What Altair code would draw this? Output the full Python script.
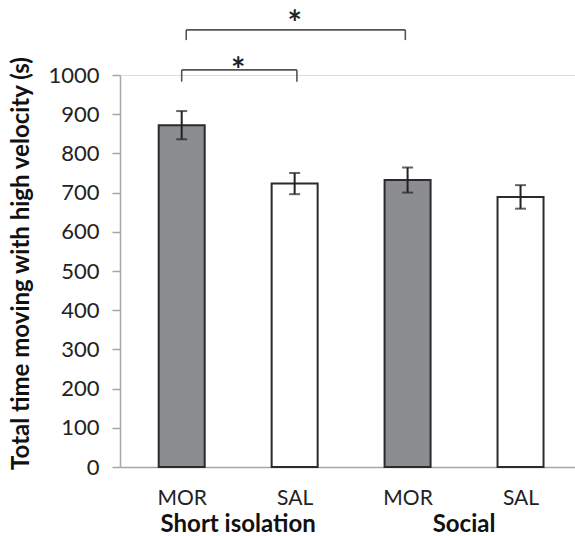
import altair as alt
import pandas as pd

# ---- data ----
groups = ["Short isolation", "Short isolation", "Social", "Social"]
treatments = ["MOR", "SAL", "MOR", "SAL"]
means = [872, 723, 732, 689]
sems = [36, 27, 32, 30]
group_names = ["Short isolation", "Social"]
y_ticks = [0, 100, 200, 300, 400, 500, 600, 700, 800, 900, 1000]

# significance brackets: start position, end position, level, end drop (data units)
br_start = [1.0, 1.04]
br_end = [2.02, 2.98]
br_level = [1013, 1115]
br_low = [983, 1089]
star_x = [1.5, 2.0]
star_y = [983, 1101]

pos = list(range(1, len(treatments) + 1))
df = pd.DataFrame({
    "pos": pos,
    "group": groups,
    "treat": treatments,
    "mean": means,
    "lo": [m - s for m, s in zip(means, sems)],
    "hi": [m + s for m, s in zip(means, sems)],
})

seg_rows = []
for s, e, l, lw in zip(br_start, br_end, br_level, br_low):
    seg_rows.append({"x": s, "x2": e, "y": l, "y2": l})
    seg_rows.append({"x": s, "x2": s, "y": l, "y2": lw})
    seg_rows.append({"x": e, "x2": e, "y": l, "y2": lw})
seg = pd.DataFrame(seg_rows)
stars = pd.DataFrame({"x": star_x, "y": star_y, "t": ["*"] * len(star_x)})
grp = pd.DataFrame({
    "x": [sum(p for p, g in zip(pos, groups) if g == gn) / groups.count(gn) for gn in group_names],
    "name": group_names,
})

W, H = 455, 392
FONT = "Lato"

xscale = alt.Scale(domain=[0.498, 4.438], nice=False, zero=False)
yscale = alt.Scale(domain=[0, 1000], nice=False)

label_list = "[" + ",".join("'" + t + "'" for t in treatments) + "]"

x_axis = alt.Axis(
    values=pos, tickCount=len(pos) + 1, labelExpr=label_list + "[datum.value-1]", title=None, grid=False,
    ticks=False, tickSize=0, domainColor="#a6a6a6", domainWidth=1.5,
    labelFont=FONT, labelFontSize=21, labelColor="#222", labelBaseline="alphabetic",
    labelPadding=37, labelFlush=False, labelOverlap=False,
)
y_axis = alt.Axis(
    values=y_ticks, tickCount=len(y_ticks) + 1, format="d", grid=False, tickSize=8, tickColor="#a6a6a6",
    tickWidth=1.5, domainColor="#a6a6a6", domainWidth=1.5, labelFont=FONT, labelFontSize=22,
    labelColor="#222", labelPadding=13, labelOverlap=False, labelFlush=False,
    title="Total time moving with high velocity (s)", titleFont=FONT,
    titleFontSize=24, titleFontWeight="bold", titleColor="#111", titleX=-99, titleY=188,
    titleBaseline="middle", titleAlign="center", titleAngle=270,
)


def X(field):
    return alt.X(field, type="quantitative", scale=xscale, axis=x_axis)


def Y(field):
    return alt.Y(field, type="quantitative", scale=yscale, axis=y_axis)


base = alt.Chart(df)

bars = base.mark_bar(width=46, stroke="#2b2b2b", strokeWidth=2).encode(
    x=X("pos"), y=Y("mean"),
    fill=alt.Fill("treat:N", scale=alt.Scale(domain=["MOR", "SAL"], range=["#8c8d91", "#ffffff"]), legend=None),
)

err = base.mark_rule(color="#222", strokeWidth=2).encode(x=X("pos"), y=Y("lo"), y2="hi:Q")
cap_lo = base.mark_tick(orient="horizontal", size=11, thickness=2, color="#222").encode(x=X("pos"), y=Y("lo"))
cap_hi = base.mark_tick(orient="horizontal", size=11, thickness=2, color="#222").encode(x=X("pos"), y=Y("hi"))

brackets = alt.Chart(seg).mark_rule(color="#555", strokeWidth=1.6).encode(
    x=X("x"), x2="x2:Q", y=Y("y"), y2="y2:Q"
)
star_txt = alt.Chart(stars).mark_text(
    font=FONT, fontSize=34, fontWeight="bold", color="#222", baseline="alphabetic"
).encode(x=X("x"), y=Y("y"), text="t:N")

grp_txt = alt.Chart(grp).mark_text(
    font=FONT, fontSize=24, fontWeight="bold", color="#111", baseline="alphabetic"
).encode(x=X("x"), y=alt.value(H + 65), text="name:N")

chart = alt.layer(bars, err, cap_lo, cap_hi, brackets, star_txt, grp_txt).properties(
    width=W, height=H, autosize="none",
    padding={"left": 120, "top": 75, "right": 0, "bottom": 69},
).configure_view(strokeWidth=0).configure_axisY(tickCount=20, labelOverlap=False).configure(background="white")

chart.save("out.html", embed_options={"renderer": "svg", "actions": False})
